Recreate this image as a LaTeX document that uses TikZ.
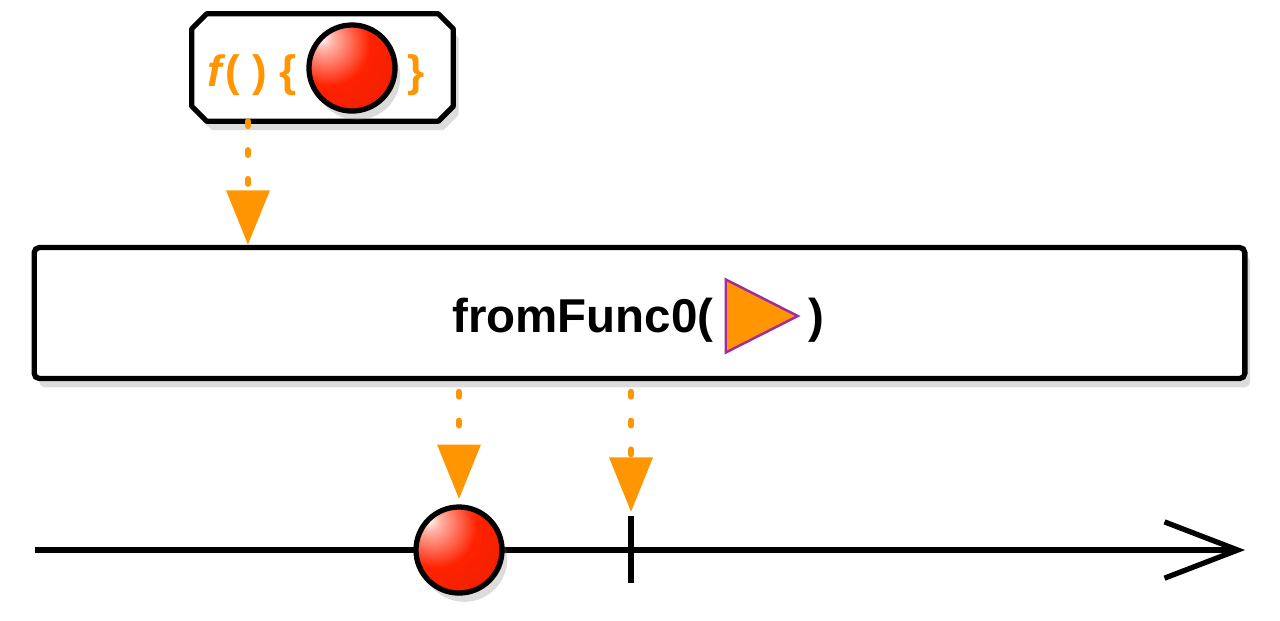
\documentclass[tikz,border=0pt]{standalone}
\usepackage{fontspec}
\setmainfont{Liberation Sans}
\usetikzlibrary{shapes.geometric, arrows.meta, positioning, calc, shadows}
\definecolor{Tangerine}{HTML}{FF9500}
\definecolor{Plum}{HTML}{A02CA0}
\definecolor{Cherry}{HTML}{FF2200}
\pgfdeclareradialshading{marbleshade}{\pgfpoint{-18bp}{18bp}}{%
    color(0bp)=(white); color(6bp)=(Cherry!35!white); color(24bp)=(Cherry);
    color(48bp)=(Cherry!92!black); color(68bp)=(Cherry!45!black);
    color(100bp)=(Cherry!45!black)}

\begin{document}
\begin{tikzpicture}[x=0.01cm, y=-0.01cm,
    softshadow/.style={drop shadow={opacity=0.28, shadow xshift=1.5pt, shadow yshift=-2.5pt}},
    funcbox/.style={rectangle, minimum width=2.6cm, minimum height=1.06cm, inner sep=0pt},
    funcedge/.style={draw=black, line width=1.5pt, fill=white, line join=round, softshadow},
    opbox/.style={rectangle, rounded corners=1.5pt, draw=black, line width=1.5pt,
                  fill=white, minimum width=12.1cm, minimum height=1.31cm, softshadow},
    marble/.style={circle, draw=black, line width=1.5pt, minimum size=0.86cm,
                   inner sep=0pt, shading=marbleshade, softshadow},
    optext/.style={font=\fontsize{13.5}{16}\selectfont\bfseries, inner sep=0pt},
    functext/.style={font=\fontsize{12.5}{15}\selectfont\bfseries, text=Tangerine, inner sep=0pt},
    flow/.style={draw=Tangerine, line width=1.7pt, line cap=round,
                 dash pattern=on 1.4pt off 6.8pt,
                 -{Triangle[width=12pt, length=15.5pt, fill=Tangerine]}},
    timeline/.style={draw=black, line width=1.5pt,
                     -{Straight Barb[length=20.8pt, width=16pt]}},
    tickmark/.style={draw=black, line width=1.5pt}
]
    \useasboundingbox (0,0) rectangle (1280,620);

    % Function box on top
    \node[funcbox] (func) at (322.5,67.5) {};
    \draw[funcedge] ([xshift=0.15cm]func.north west) -- ([xshift=-0.15cm]func.north east)
        -- ([yshift=-0.15cm]func.north east) -- ([yshift=0.15cm]func.south east)
        -- ([xshift=-0.15cm]func.south east) -- ([xshift=0.15cm]func.south west)
        -- ([yshift=0.15cm]func.south west) -- ([yshift=-0.15cm]func.north west) -- cycle;
    \node[functext, anchor=base east] (fhead) at (297,86) {\textit{f}( ) \{};
    \node[marble] (fball) at (352,68) {};
    \node[functext, anchor=base west] (ftail) at (407,86) {\}};

    % Operator box
    \node[opbox] (op) at (639.5,313) {};
    \node[optext, anchor=base east] (opname) at (714,332) {fromFunc0(};
    \node[isosceles triangle, isosceles triangle stretches, minimum width=0.73cm,
          minimum height=0.72cm, inner sep=0pt, fill=Tangerine, draw=Plum,
          line width=0.7pt, anchor=apex] (optri) at (801,316) {};
    \node[optext, anchor=base west] (opclose) at (808,332) {)};

    % Timeline
    \coordinate (tstart) at (35,550);
    \coordinate (tend) at (1245,550);
    \coordinate (done) at (631,550);
    \draw[timeline] (tstart) -- (tend);
    \node[marble] (item) at (459,550) {};
    \draw[tickmark] ([yshift=0.34cm]done) -- ([yshift=-0.33cm]done);

    % Emissions
    \draw[flow] ([xshift=-0.745cm]func.south) -- ([xshift=-0.745cm]func.south |- op.north);
    \draw[flow, shorten >=1.5pt] ([yshift=-3pt]item.north |- op.south) -- (item.north);
    \draw[flow] ([yshift=-3pt]done |- op.south) -- ([yshift=0.38cm]done);
\end{tikzpicture}
\end{document}
